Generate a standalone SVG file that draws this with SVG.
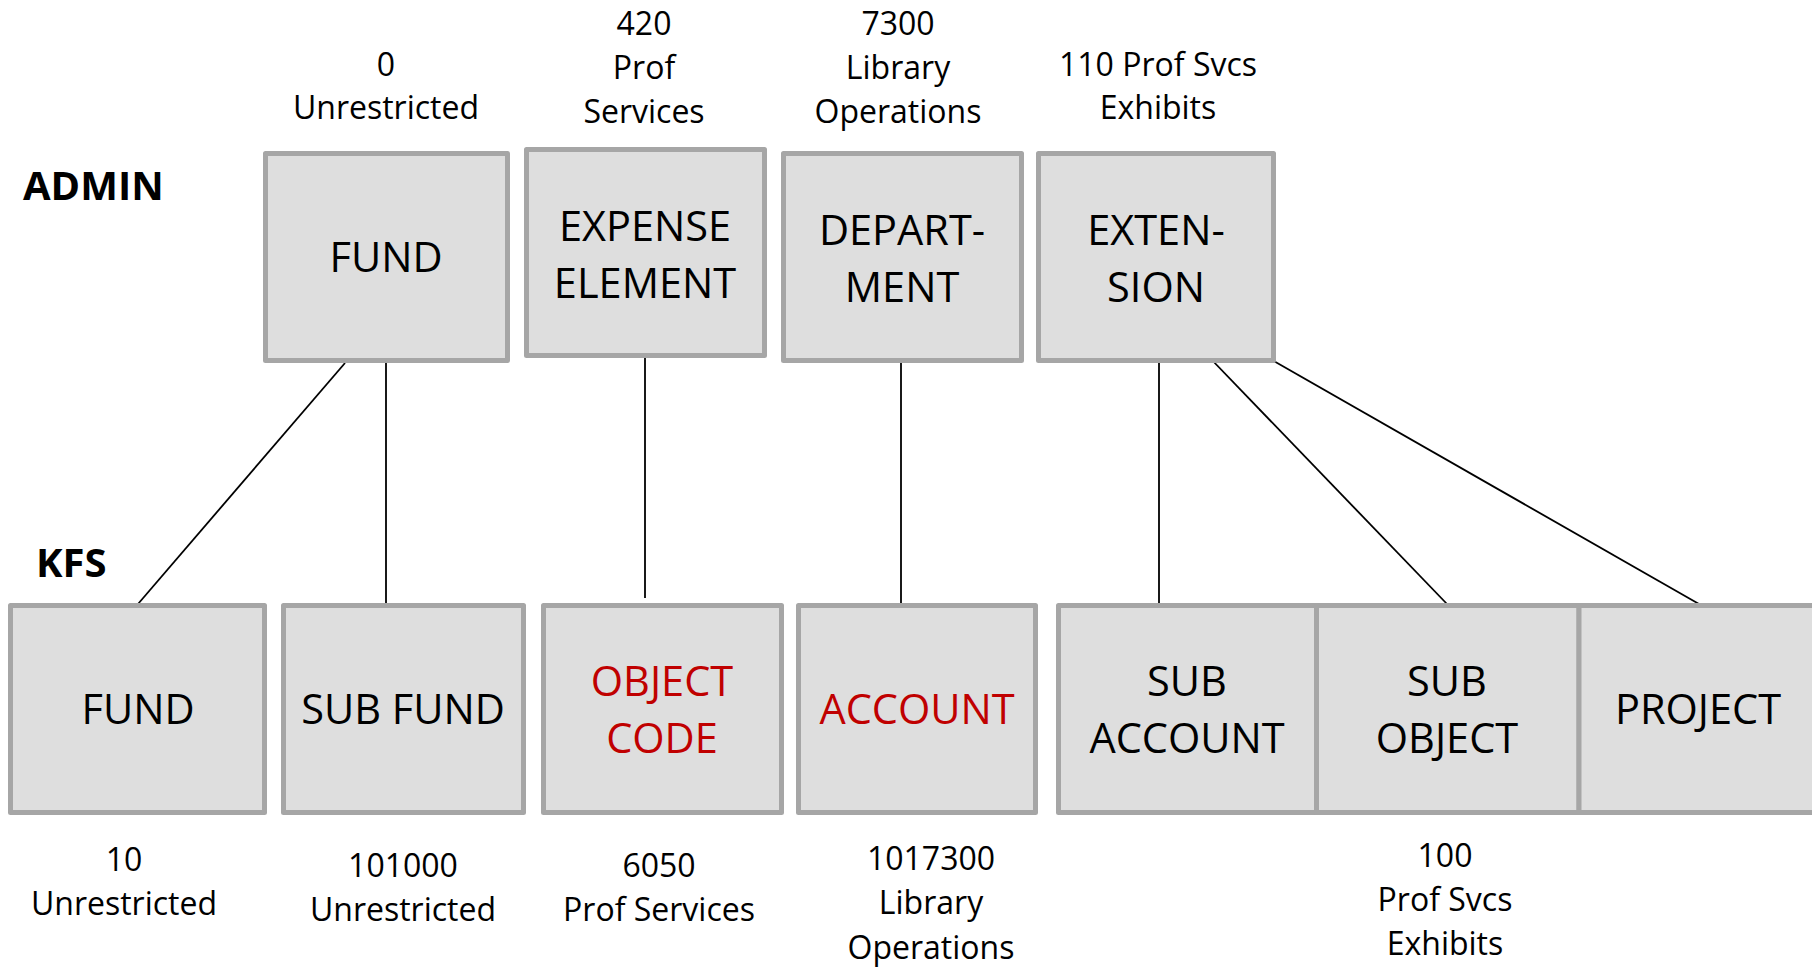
<svg xmlns="http://www.w3.org/2000/svg" width="1812" height="967" viewBox="0 0 1812 967">
<style>
text{font-family:"Open Sans","Liberation Sans",sans-serif;fill:#000;text-anchor:middle}
.box{fill:#DEDEDE;stroke:#A6A6A6;stroke-width:5;stroke-linejoin:round}
.bt{font-size:41.5px}
.red{fill:#C00000}
.lbl{font-size:32px}
.hdr{font-size:40px;font-weight:bold;text-anchor:start}
.con line{stroke:#000;stroke-width:1.8}
</style>
<rect width="1812" height="967" fill="#fff"/>
<text class="hdr" x="23" y="200">ADMIN</text>
<text class="hdr" x="36" y="577">KFS</text>
<g class="con" id="connectors">
<line x1="345" y1="363" x2="138" y2="604"/>
<line x1="386" y1="363" x2="386" y2="604"/>
<line x1="645" y1="358" x2="645" y2="598"/>
<line x1="901" y1="363" x2="901" y2="604"/>
<line x1="1159" y1="363" x2="1159" y2="604"/>
<line x1="1210" y1="358" x2="1447" y2="604"/>
<line x1="1272" y1="360" x2="1699" y2="604"/>
</g>
<g id="admin-fund">
<rect class="box" x="265.5" y="153.5" width="242" height="207"/>
<text class="bt" x="386" y="272">FUND</text>
<text class="lbl" x="386" y="76">0</text>
<text class="lbl" x="386" y="119">Unrestricted</text>
</g>
<g id="admin-expense">
<rect class="box" x="526.5" y="149.5" width="238" height="206"/>
<text class="bt" x="645" y="241">EXPENSE</text>
<text class="bt" x="645" y="298">ELEMENT</text>
<text class="lbl" x="644" y="35">420</text>
<text class="lbl" x="644" y="79">Prof</text>
<text class="lbl" x="644" y="123">Services</text>
</g>
<g id="admin-department">
<rect class="box" x="783.5" y="153.5" width="238" height="207"/>
<text class="bt" x="902" y="245">DEPART-</text>
<text class="bt" x="902" y="302">MENT</text>
<text class="lbl" x="898" y="35">7300</text>
<text class="lbl" x="898" y="79">Library</text>
<text class="lbl" x="898" y="123">Operations</text>
</g>
<g id="admin-extension">
<rect class="box" x="1038.5" y="153.5" width="235" height="207"/>
<text class="bt" x="1156" y="245">EXTEN-</text>
<text class="bt" x="1156" y="302">SION</text>
<text class="lbl" x="1158" y="76">110 Prof Svcs</text>
<text class="lbl" x="1158" y="119">Exhibits</text>
</g>
<g id="kfs-fund">
<rect class="box" x="10.5" y="605.5" width="254" height="207"/>
<text class="bt" x="138" y="724">FUND</text>
<text class="lbl" x="124" y="871">10</text>
<text class="lbl" x="124" y="915">Unrestricted</text>
</g>
<g id="kfs-subfund">
<rect class="box" x="283.5" y="605.5" width="240" height="207"/>
<text class="bt" x="403" y="724">SUB FUND</text>
<text class="lbl" x="403" y="877">101000</text>
<text class="lbl" x="403" y="921">Unrestricted</text>
</g>
<g id="kfs-objectcode">
<rect class="box" x="543.5" y="605.5" width="238" height="207"/>
<text class="bt red" x="662" y="696">OBJECT</text>
<text class="bt red" x="662" y="753">CODE</text>
<text class="lbl" x="659" y="877">6050</text>
<text class="lbl" x="659" y="921">Prof Services</text>
</g>
<g id="kfs-account">
<rect class="box" x="798.5" y="605.5" width="237" height="207"/>
<text class="bt red" x="917" y="724">ACCOUNT</text>
<text class="lbl" x="931" y="870">1017300</text>
<text class="lbl" x="931" y="914">Library</text>
<text class="lbl" x="931" y="959">Operations</text>
</g>
<g id="kfs-subaccount">
<rect class="box" x="1058.5" y="605.5" width="258" height="207"/>
<text class="bt" x="1187" y="696">SUB</text>
<text class="bt" x="1187" y="753">ACCOUNT</text>
</g>
<g id="kfs-subobject">
<rect class="box" x="1316.5" y="605.5" width="262.5" height="207"/>
<text class="bt" x="1447" y="696">SUB</text>
<text class="bt" x="1447" y="753">OBJECT</text>
<text class="lbl" x="1445" y="867">100</text>
<text class="lbl" x="1445" y="911">Prof Svcs</text>
<text class="lbl" x="1445" y="955">Exhibits</text>
</g>
<g id="kfs-project">
<rect class="box" x="1579" y="605.5" width="240" height="207"/>
<text class="bt" x="1698" y="724">PROJECT</text>
</g>
</svg>
